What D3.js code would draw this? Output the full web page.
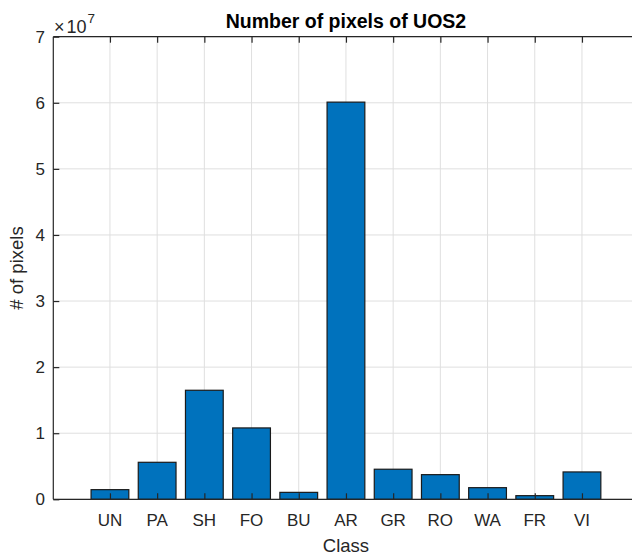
<!DOCTYPE html>
<html lang="en">
<head>
    <meta charset="UTF-8">
    <title>Number of pixels of UOS2</title>
    <script src="https://d3js.org/d3.v7.min.js"></script>
    <style>
        body {
            margin: 0;
            background: #ffffff;
            font-family: "Liberation Sans", Arial, sans-serif;
        }
        svg { display: block; }
        .tick-label { font-size: 17px; fill: #262626; }
        .axis-title { font-size: 18.5px; fill: #262626; }
        .chart-title { font-size: 19.5px; font-weight: bold; fill: #000; }
    </style>
</head>
<body>
    <div id="chart"></div>
    <script>
        let classes = ["UN", "PA", "SH", "FO", "BU", "AR", "GR", "RO", "WA", "FR", "VI"];
        let pixelCounts = [1.46e6, 5.6e6, 16.5e6, 10.8e6, 1.05e6, 60.1e6, 4.55e6, 3.73e6, 1.76e6, 0.55e6, 4.14e6];
        let yTicks = [0, 1e7, 2e7, 3e7, 4e7, 5e7, 6e7, 7e7];

        let width = 632, height = 555;
        let plot = { left: 53.3, right: 638.6, top: 36.7, bottom: 499.3 };

        let svg = d3.select("#chart").append("svg")
            .attr("width", width)
            .attr("height", height);

        let x = d3.scalePoint()
            .domain(classes)
            .range([plot.left, plot.right])
            .padding(1.2);

        let y = d3.scaleLinear()
            .domain([0, 7e7])
            .range([plot.bottom, plot.top]);

        let barWidth = x.step() * 0.8;

        // grid
        svg.append("g")
            .selectAll("line")
            .data(classes)
            .enter().append("line")
            .attr("x1", d => x(d)).attr("x2", d => x(d))
            .attr("y1", plot.top).attr("y2", plot.bottom)
            .attr("stroke", "#dfdfdf").attr("stroke-width", 1);

        svg.append("g")
            .selectAll("line")
            .data(yTicks)
            .enter().append("line")
            .attr("x1", plot.left).attr("x2", plot.right)
            .attr("y1", d => y(d)).attr("y2", d => y(d))
            .attr("stroke", "#dfdfdf").attr("stroke-width", 1);

        // bars
        svg.append("g")
            .selectAll("rect")
            .data(classes)
            .enter().append("rect")
            .attr("x", d => x(d) - barWidth / 2)
            .attr("width", barWidth)
            .attr("y", (d, i) => y(pixelCounts[i]))
            .attr("height", (d, i) => y(0) - y(pixelCounts[i]))
            .attr("fill", "#0072BD")
            .attr("stroke", "#1a1a1a")
            .attr("stroke-width", 1.2);

        // axes (MATLAB style, ticks inside)
        let xAxisBottom = svg.append("g")
            .attr("transform", "translate(0," + plot.bottom + ")")
            .call(d3.axisTop(x).tickSize(6).tickFormat(""));
        let xAxisTop = svg.append("g")
            .attr("transform", "translate(0," + plot.top + ")")
            .call(d3.axisBottom(x).tickSize(6).tickFormat(""));
        let yAxis = svg.append("g")
            .attr("transform", "translate(" + plot.left + ",0)")
            .call(d3.axisRight(y).tickValues(yTicks).tickSize(6).tickFormat(""));

        [xAxisBottom, xAxisTop, yAxis].forEach(g => {
            g.select(".domain").remove();
            g.selectAll(".tick line").attr("stroke", "#262626").attr("stroke-width", 1.2);
        });

        // axis lines
        svg.append("line").attr("x1", plot.left).attr("x2", plot.right).attr("y1", plot.bottom).attr("y2", plot.bottom)
            .attr("stroke", "#262626").attr("stroke-width", 1.2);
        svg.append("line").attr("x1", plot.left).attr("x2", plot.right).attr("y1", plot.top).attr("y2", plot.top)
            .attr("stroke", "#262626").attr("stroke-width", 1.2);
        svg.append("line").attr("x1", plot.left).attr("x2", plot.left).attr("y1", plot.top).attr("y2", plot.bottom)
            .attr("stroke", "#262626").attr("stroke-width", 1.2);

        // tick labels
        svg.append("g")
            .selectAll("text")
            .data(classes)
            .enter().append("text")
            .attr("class", "tick-label")
            .attr("x", d => x(d))
            .attr("y", 526)
            .attr("text-anchor", "middle")
            .text(d => d);

        svg.append("g")
            .selectAll("text")
            .data(yTicks)
            .enter().append("text")
            .attr("class", "tick-label")
            .attr("x", 45)
            .attr("y", d => y(d))
            .attr("dy", "0.36em")
            .attr("text-anchor", "end")
            .text(d => d / 1e7);

        // exponent
        let expo = svg.append("text")
            .attr("class", "tick-label")
            .attr("x", 54)
            .attr("y", 33)
            .style("font-size", "18px");
        expo.append("tspan").text("\u00d7");
        expo.append("tspan").attr("dx", 2).text("10");
        expo.append("tspan").attr("dx", 1).attr("dy", -10).style("font-size", "13.5px").text("7");

        // titles
        svg.append("text")
            .attr("class", "chart-title")
            .attr("x", (plot.left + plot.right) / 2)
            .attr("y", 28)
            .attr("text-anchor", "middle")
            .text("Number of pixels of UOS2");

        svg.append("text")
            .attr("class", "axis-title")
            .attr("x", (plot.left + plot.right) / 2)
            .attr("y", 552)
            .attr("text-anchor", "middle")
            .text("Class");

        svg.append("text")
            .attr("class", "axis-title")
            .attr("transform", "translate(23," + ((plot.top + plot.bottom) / 2) + ") rotate(-90)")
            .attr("text-anchor", "middle")
            .text("# of pixels");
    </script>
</body>
</html>
